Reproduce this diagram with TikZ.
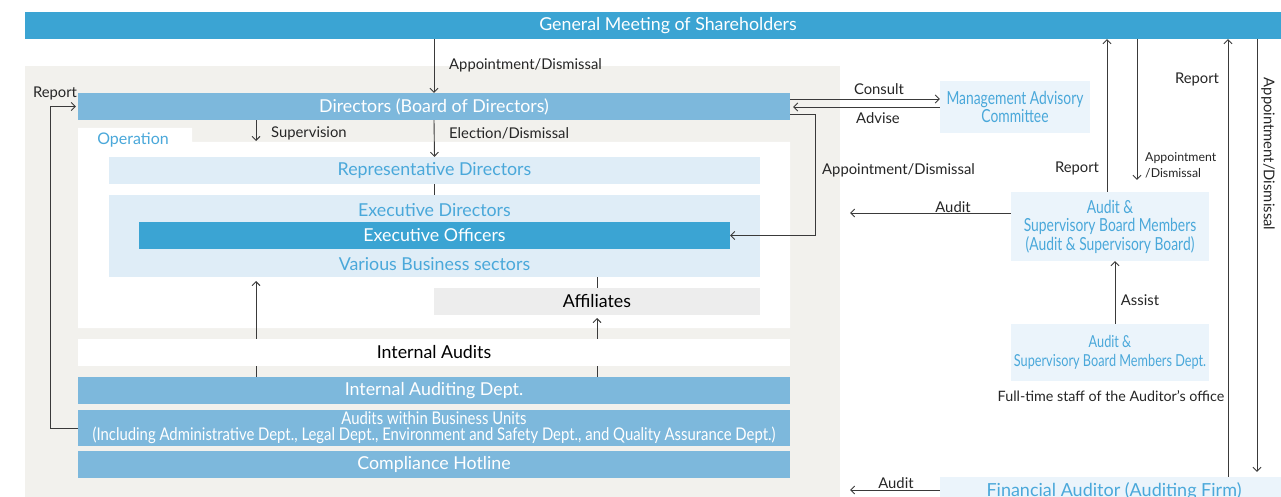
\documentclass[tikz,border=0pt]{standalone}
\usepackage{fontspec}
\setmainfont{Lato}
\newfontfamily\narrowFont[FakeStretch=0.85]{Lato}
\newfontfamily\slimFont[FakeStretch=0.77]{Lato}
\usetikzlibrary{arrows.meta}
\definecolor{gmBlue}{HTML}{3BA4D3}
\definecolor{midBlue}{HTML}{7DB8DC}
\definecolor{paleBlue}{HTML}{DFEDF7}
\definecolor{lightBlue}{HTML}{EBF4FB}
\definecolor{textBlue}{HTML}{4AA8DA}
\definecolor{panelGrey}{HTML}{F2F1ED}
\definecolor{affGrey}{HTML}{EDEDED}
\definecolor{lineGrey}{HTML}{3A3A3A}
\newcommand{\boxFont}{\fontsize{17.8}{19}\selectfont}
\newcommand{\labelFont}{\fontsize{14.8}{16}\selectfont}
\newcommand{\fullWidth}{712pt}

\begin{document}
\begin{tikzpicture}[x=1pt, y=-1pt,
  bar/.style={inner sep=0pt, minimum height=27pt, font=\boxFont},
  lbl/.style={inner sep=0pt, font=\labelFont, text=black!85},
  arr/.style={-{Straight Barb[length=4pt,width=8pt]}, draw=lineGrey, line width=0.9pt},
  ln/.style={draw=lineGrey, line width=0.9pt}]
\path[use as bounding box, clip] (0,0) rectangle (1281,497);
\fill[white] (0,0) rectangle (1281,497);
% panels
\fill[panelGrey] (25,66) rectangle (840,510);
\fill[white] (78,128) -- (192,128) -- (192,142) -- (790,142) -- (790,328) -- (78,328) -- cycle;
% boxes
\node[bar, fill=gmBlue, text=white, minimum width=1286pt] (gm) at (668,25.5) {General Meeting of Shareholders};
\node[bar, fill=midBlue, text=white, minimum width=\fullWidth] (dir) at (434,106.5) {Directors (Board of Directors)};
\node[lbl, text=textBlue, font=\fontsize{16}{18}\selectfont] (op) at (133,140) {Operation};
\node[bar, fill=paleBlue, text=textBlue, minimum width=651pt] (rep) at (434.5,170.5) {Representative Directors};
\node[inner sep=0pt, fill=paleBlue, minimum width=651pt, minimum height=82pt] (exec) at (434.5,236) {};
\node[bar, fill=gmBlue, text=white, minimum width=591pt] (eo) at (434.5,235.5) {Executive Officers};
\node[lbl, text=textBlue, font=\boxFont] (ed) at (434.5,210) {Executive Directors};
\node[lbl, text=textBlue, font=\boxFont] (vbs) at (434.5,264) {Various Business sectors};
\node[bar, fill=affGrey, text=black, minimum width=326pt] (aff) at (597,301.5) {Affiliates};
\node[bar, fill=midBlue, text=white, minimum width=\fullWidth] (iad) at (434,390.5) {Internal Auditing Dept.};
\node[bar, fill=midBlue, text=white, minimum width=\fullWidth, minimum height=36pt, align=center,
  font=\narrowFont\fontsize{17.5}{16}\selectfont] (abu) at (434,428)
  {Audits within Business Units\\(Including Administrative Dept., Legal Dept., Environment and Safety Dept., and Quality Assurance Dept.)};
\node[bar, fill=midBlue, text=white, minimum width=\fullWidth] (ch) at (434,464.5) {Compliance Hotline};
\node[bar, fill=lightBlue, text=textBlue, minimum width=150pt, minimum height=52pt, align=center,
  font=\slimFont\fontsize{18}{18}\selectfont] (mac) at (1015,107) {Management Advisory\\Committee};
\node[bar, fill=lightBlue, text=textBlue, minimum width=198pt, minimum height=69pt, align=center,
  font=\slimFont\fontsize{18}{18.5}\selectfont] (asbm) at (1110,226.5) {Audit \&\\Supervisory Board Members\\(Audit \& Supervisory Board)};
\node[bar, fill=lightBlue, text=textBlue, minimum width=198pt, minimum height=57pt, align=center,
  font=\slimFont\fontsize{16.5}{19}\selectfont] (asbmd) at (1110,352.5) {Audit \&\\Supervisory Board Members Dept.};
\node[bar, fill=lightBlue, text=textBlue, minimum width=348pt, minimum height=28pt, font=\fontsize{18}{20}\selectfont] (fa) at (1114,491) {Financial Auditor (Auditing Firm)};
% internal audit arrows (behind the white bar)
\coordinate (iaL) at (256,281);
\coordinate (iaR) at (597,318);
\draw[arr] (iad.north -| iaL) -- (iaL);
\draw[arr] (iad.north -| iaR) -- (iaR);
\node[bar, fill=white, text=black, minimum width=\fullWidth] (ia) at (434,352.5) {Internal Audits};
% connectors
\draw[arr] (gm.south -| dir.north) -- (dir.north);
\coordinate (supEnd) at (256,141);
\draw[arr] (dir.south -| supEnd) -- (supEnd);
\draw[arr] (dir.south) -- (rep.north);
\draw[ln] (rep.south) -- (exec.north);
\draw[ln] (exec.south -| aff.north) -- (aff.north);
\draw[arr] ([yshift=7.5pt]dir.east) -- ([yshift=7.5pt]dir.east -| mac.west);
\draw[arr] (mac.west) -- ([xshift=3pt]mac.west -| dir.east);
\draw[arr] ([yshift=-7.5pt]dir.east) -- ++(25,0) |- (eo.east);
\draw[arr] (abu.west) -- ++(-27,0) |- ([xshift=-2pt]dir.west);
\coordinate (auditA) at (850,213);
\draw[arr] (asbm.west |- auditA) -- (auditA);
\draw[arr] ([xshift=-3pt]asbm.north) -- ([xshift=-3pt]asbm.north |- gm.south);
\draw[arr] ([xshift=27pt]asbm.north |- gm.south) -- ([xshift=27pt,yshift=12pt]asbm.north);
\draw[arr] ([xshift=5pt]asbmd.north) -- ([xshift=5pt]asbm.south);
\draw[arr] ([xshift=114pt]fa.north) -- ([xshift=114pt]fa.north |- gm.south);
\draw[arr] ([xshift=143pt]fa.north |- gm.south) -- ([xshift=143pt,yshift=5pt]fa.north);
\coordinate (auditF) at (850,490);
\draw[arr] (fa.west |- auditF) -- (auditF);
% labels
\node[lbl, anchor=west] (lAppDir) at (449,65) {Appointment/Dismissal};
\node[lbl] (lRepL) at (55,93) {Report};
\node[lbl, anchor=west] (lSup) at (271,133) {Supervision};
\node[lbl, anchor=west] (lElec) at (449,133) {Election/Dismissal};
\node[lbl] (lCons) at (879,89) {Consult};
\node[lbl] (lAdv) at (878,118) {Advise};
\node[lbl, anchor=west] (lAppEO) at (822,170) {Appointment/Dismissal};
\node[lbl] (lAudA) at (953,207) {Audit};
\node[lbl] (lRepA) at (1077,168) {Report};
\node[lbl, anchor=west, align=left, font=\fontsize{12.3}{16}\selectfont] (lAppA) at (1145,165) {Appointment\\/Dismissal};
\node[lbl] (lAssist) at (1140,300) {Assist};
\node[lbl, font=\fontsize{14.3}{16}\selectfont] (lStaff) at (1111,396) {Full-time staff of the Auditor's office};
\node[lbl] (lRepF) at (1197,79) {Report};
\node[lbl, rotate=-90] (lAppF) at (1268,154) {Appointment/Dismissal};
\node[lbl] (lAudF) at (896,483) {Audit};
\end{tikzpicture}
\end{document}
